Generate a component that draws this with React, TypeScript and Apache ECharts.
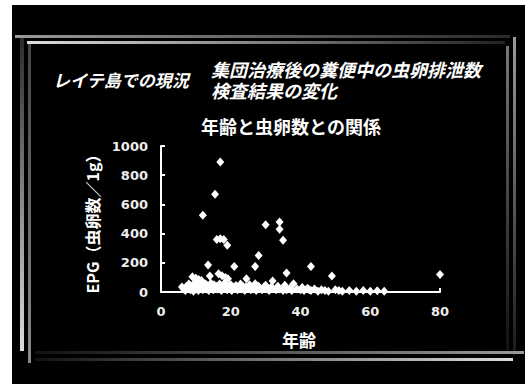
import React, { useEffect, useRef } from "react";
import * as echarts from "echarts";

// Age (years) of each examined person
const ages: number[] = [
  17, 15.5, 12, 30, 34, 34, 35, 16, 17, 18, 19, 13.5, 21, 27, 28, 43, 36, 14, 24.5, 32,
  49, 80, 9, 10, 10.8, 11.6, 16.5, 17.5, 18.5, 19.2,
  6, 6.5, 7, 7.3, 7.8, 8, 8.4, 8.7, 9, 9.3, 9.6, 10, 10.2, 10.7, 11, 11.3, 11.8, 12, 12.4, 12.8,
  13, 13.2, 13.7, 14, 14.3, 14.8, 15, 15.2, 15.7, 16, 16.3, 16.8, 17, 17.3, 17.8, 18, 18.2, 18.7,
  19, 19.4, 19.8, 20, 20.3, 20.8, 21, 21.5, 22, 22.3, 22.8, 23, 23.5, 24, 24.3, 25, 25.4, 25.8,
  26, 26.5, 27, 27.3, 28, 28.4, 29, 29.5, 30, 30.4, 31, 31.5, 32, 33, 33.5, 34, 35, 35.5, 36,
  37, 37.5, 38, 39, 40, 40.5, 41, 42, 42.5, 43, 44, 45, 46, 47, 48, 50, 51, 52, 54, 56, 58, 60,
  62, 64, 66, 67,
];

// EPG (eggs per gram of faeces) for the same people, same order
const epg: number[] = [
  890, 670, 525, 460, 480, 430, 355, 360, 365, 360, 320, 185, 175, 175, 250, 175, 130, 110, 90, 75,
  110, 120, 105, 95, 85, 78, 125, 112, 100, 90,
  35, 20, 10, 40, 25, 55, 15, 30, 45, 5, 60, 20, 35, 10, 50, 25, 40, 15, 30, 55,
  20, 45, 10, 35, 60, 25, 15, 50, 30, 40, 20, 55, 35, 10, 45, 25, 60, 30,
  15, 40, 20, 50, 10, 35, 25, 45, 15, 30, 55, 20, 40, 10, 35, 25, 50, 15,
  30, 20, 57, 10, 40, 25, 15, 35, 46, 20, 10, 30, 25, 15, 40, 20, 10,
  46, 15, 25, 10, 57, 20, 15, 30, 10, 25, 15, 10, 20, 5, 15, 10, 5, 15, 10, 5, 10, 5,
  10, 5, 8, 5,
];

const xTicks: number[] = [0, 20, 40, 60, 80];
const yTicks: number[] = [0, 200, 400, 600, 800, 1000];

const leftTitle = "レイテ島での現況";
const rightTitle = "集団治療後の糞便中の虫卵排泄数\n検査結果の変化";
const chartTitle = "年齢と虫卵数との関係";
const xName = "年齢";
const yName = "EPG（虫卵数／1g）";

const JP = '"Noto Sans CJK JP", "Noto Sans", sans-serif';
const NUM = '"DejaVu Sans", sans-serif';

function lg(x2: number, y2: number, c0: string, c1: string) {
  return new echarts.graphic.LinearGradient(0, 0, x2, y2, [
    { offset: 0, color: c0 },
    { offset: 1, color: c1 },
  ]);
}

export default function App() {
  const ref = useRef<HTMLDivElement>(null);
  useEffect(() => {
    if (!ref.current) return;
    const chart = echarts.init(ref.current, undefined, { renderer: "svg" });
    const points = ages.map((a, i) => [a, epg[i]]);
    const labelStyle = {
      color: "#eee",
      fontFamily: NUM,
      fontWeight: "bold",
      fontSize: 13,
      margin: 13,
      formatter: (v: number) => String(v),
    };
    chart.setOption({
      animation: false,
      backgroundColor: "#000",
      grid: { left: 161, top: 146, width: 279, height: 146, containLabel: false },
      xAxis: {
        type: "value",
        min: xTicks[0],
        max: xTicks[xTicks.length - 1],
        interval: 20,
        axisLine: { show: true, lineStyle: { color: "#fff", width: 2 } },
        axisTick: { show: true, inside: true, length: 4, lineStyle: { color: "#fff", width: 2 } },
        axisLabel: labelStyle,
        splitLine: { show: false },
      },
      yAxis: {
        type: "value",
        min: yTicks[0],
        max: yTicks[yTicks.length - 1],
        interval: 200,
        axisLine: { show: true, lineStyle: { color: "#fff", width: 2 } },
        axisTick: { show: true, inside: true, length: 4, lineStyle: { color: "#fff", width: 2 } },
        axisLabel: labelStyle,
        splitLine: { show: false },
      },
      series: [
        {
          type: "scatter",
          data: points,
          symbol: "diamond",
          symbolSize: [8, 9],
          itemStyle: { color: "#fff", opacity: 1 },
          z: 3,
        },
      ],
      graphic: [
        // white page margins
        { type: "rect", shape: { x: 0, y: 0, width: 12, height: 384 }, style: { fill: "#fff" }, silent: true },
        { type: "rect", shape: { x: 0, y: 0, width: 525, height: 5 }, style: { fill: "#fff" }, silent: true },
        // frame lines
        { type: "rect", shape: { x: 15, y: 35, width: 495, height: 3 }, style: { fill: lg(1, 0, "#9a9a9a", "#2a2a2a") }, silent: true },
        { type: "rect", shape: { x: 27, y: 41, width: 478, height: 3 }, style: { fill: lg(1, 0, "#dddddd", "#222222") }, silent: true },
        { type: "rect", shape: { x: 20, y: 38, width: 4, height: 313 }, style: { fill: lg(0, 1, "#2a2a2a", "#dddddd") }, silent: true },
        { type: "rect", shape: { x: 28, y: 44, width: 3, height: 319 }, style: { fill: lg(0, 1, "#444444", "#8a8a8a") }, silent: true },
        { type: "rect", shape: { x: 506, y: 46, width: 3, height: 305 }, style: { fill: lg(0, 1, "#777777", "#111111") }, silent: true },
        { type: "rect", shape: { x: 513, y: 37, width: 3, height: 318 }, style: { fill: lg(0, 1, "#9a9a9a", "#1a1a1a") }, silent: true },
        { type: "rect", shape: { x: 35, y: 351, width: 489, height: 3 }, style: { fill: lg(1, 0, "#111111", "#9a9a9a") }, silent: true },
        { type: "rect", shape: { x: 35, y: 358, width: 478, height: 3 }, style: { fill: lg(1, 0, "#111111", "#dddddd") }, silent: true },
        // titles
        {
          type: "text", x: 53, y: 79, silent: true,
          style: { text: leftTitle, fill: "#fff", font: `italic bold 17px ${JP}`, lineHeight: 18, align: "left", verticalAlign: "middle" },
        },
        {
          type: "text", x: 211, y: 79, silent: true,
          style: { text: rightTitle, fill: "#fff", font: `italic bold 18px ${JP}`, lineHeight: 21, align: "left", verticalAlign: "middle" },
        },
        {
          type: "text", x: 291, y: 126, silent: true,
          style: { text: chartTitle, fill: "#fff", font: `bold 18px ${JP}`, align: "center", verticalAlign: "middle" },
        },
        {
          type: "text", x: 299, y: 339, silent: true,
          style: { text: xName, fill: "#fff", font: `bold 17px ${JP}`, align: "center", verticalAlign: "middle" },
        },
        {
          type: "text", x: 92, y: 220, rotation: Math.PI / 2, silent: true,
          style: { text: yName, fill: "#fff", font: `bold 16px ${JP}`, align: "center", verticalAlign: "middle" },
        },
      ],
    });
    return () => chart.dispose();
  }, []);
  return (
    <div
      ref={ref}
      style={{ position: "fixed", left: 0, top: 0, width: 525, height: 384 }}
    />
  );
}
